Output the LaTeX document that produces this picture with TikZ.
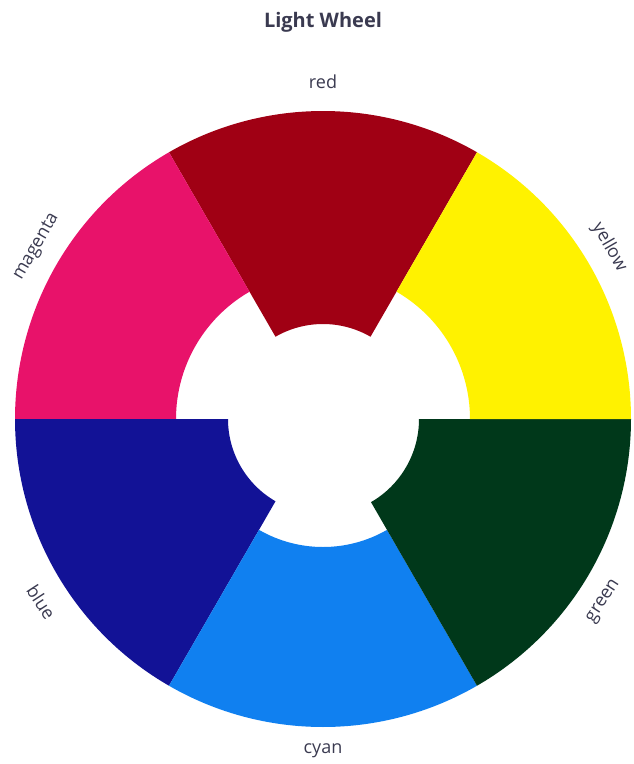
\documentclass[tikz,border=0pt]{standalone}
\usepackage{fontspec}
\setmainfont{Open Sans}
\definecolor{cred}{RGB}{160,0,20}
\definecolor{cmag}{RGB}{232,18,106}
\definecolor{cyel}{RGB}{255,242,0}
\definecolor{cblu}{RGB}{18,18,150}
\definecolor{ccya}{RGB}{16,128,240}
\definecolor{cgre}{RGB}{0,56,26}
\definecolor{txt}{RGB}{58,58,80}
\newcommand\wheelsector[4]{%
  \fill[#1] (#2:#4) arc[start angle=#2,end angle=#3,radius=#4] -- (#3:308) arc[start angle=#3,end angle=#2,radius=308] -- cycle;}
\begin{document}
\begin{tikzpicture}[x=1pt,y=1pt,
  lbl/.style={font=\fontsize{18}{21}\selectfont, text=txt, inner sep=0pt},
  ttl/.style={font=\bfseries\fontsize{20}{23}\selectfont, text=txt, inner sep=0pt}]
\useasboundingbox (0,0) rectangle (633,-764);
\node[ttl] (title) at (323,-22) {Light Wheel};
\begin{scope}[shift={(323,-419)}]
\wheelsector{cred}{60}{120}{95}
\wheelsector{cmag}{120}{180}{147}
\wheelsector{cblu}{180}{240}{95}
\wheelsector{ccya}{240}{300}{128}
\wheelsector{cgre}{300}{360}{96}
\wheelsector{cyel}{0}{60}{147}
\node[lbl] (lred) at (90:337) {red};
\node[lbl,rotate=60] (lmag) at (149:334) {magenta};
\node[lbl,rotate=-60] (lyel) at (31:334) {yellow};
\node[lbl,rotate=-57] (lblu) at (213:336) {blue};
\node[lbl,rotate=57] (lgre) at (327:335) {green};
\node[lbl] (lcya) at (270:332) {cyan};
\end{scope}
\end{tikzpicture}
\end{document}
